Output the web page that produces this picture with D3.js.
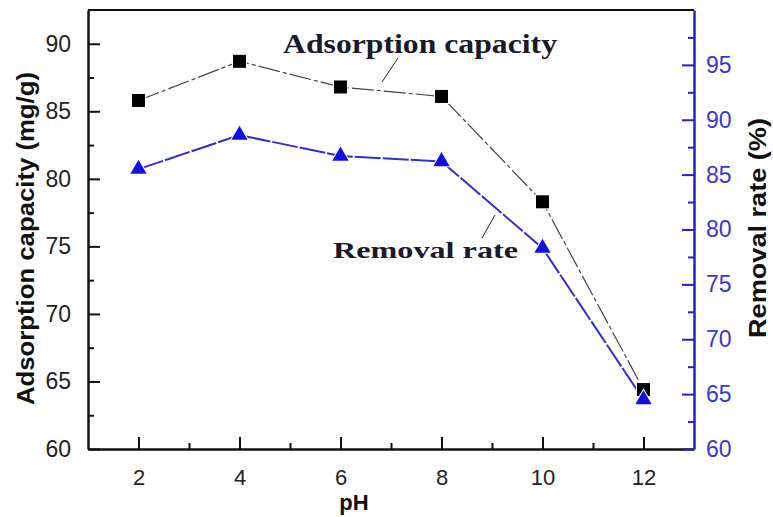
<!DOCTYPE html>
<html>
<head>
<meta charset="utf-8">
<script src="https://d3js.org/d3.v7.min.js"></script>
<style>
  body { margin: 0; background: #fff; }
  text { font-family: "Liberation Sans", Arial, sans-serif; }
</style>
</head>
<body>
<script>
// data
let ph = [2, 4, 6, 8, 10, 12];
let capacity = [85.8, 88.7, 86.8, 86.1, 78.3, 64.4];   // mg/g, left axis
let removal = [85.5, 88.6, 86.7, 86.2, 78.3, 64.5];    // %, right axis
let xTicks = [2, 4, 6, 8, 10, 12];
let leftTicks = [60, 65, 70, 75, 80, 85, 90];
let rightTicks = [60, 65, 70, 75, 80, 85, 90, 95];

let W = 773, H = 517;
let pLeft = 88, pRight = 694, pTop = 10, pBottom = 449;
let blue = "#2222cc";

let svg = d3.select("body").append("svg")
    .attr("width", W).attr("height", H);

let x = d3.scaleLinear().domain([1, 13]).range([pLeft, pRight]);
let yL = d3.scaleLinear().domain([60, 92.5]).range([pBottom, pTop]);
let yR = d3.scaleLinear().domain([60, 100]).range([pBottom, pTop]);

// frame: top line
svg.append("line").attr("x1", pLeft).attr("x2", pRight).attr("y1", pTop).attr("y2", pTop)
    .attr("stroke", "#111").attr("stroke-width", 2);

// bottom axis, ticks pointing inside
let xAxis = svg.append("g").attr("transform", `translate(0,${pBottom})`)
    .call(d3.axisBottom(x).tickValues(xTicks).tickSize(-12).tickPadding(20).tickSizeOuter(0));
xAxis.select(".domain").attr("stroke", "#111").attr("stroke-width", 2.5);
xAxis.selectAll(".tick line").attr("stroke", "#111").attr("stroke-width", 2);
xAxis.selectAll("text").attr("font-size", 22).attr("fill", "#222");
svg.append("g").attr("transform", `translate(0,${pBottom})`)
    .call(d3.axisBottom(x).tickValues([3, 5, 7, 9, 11]).tickSize(-6).tickFormat("").tickSizeOuter(0))
    .call(g => g.select(".domain").remove())
    .selectAll("line").attr("stroke", "#111").attr("stroke-width", 2);

// left axis
let lAxis = svg.append("g").attr("transform", `translate(${pLeft},0)`)
    .call(d3.axisLeft(yL).tickValues(leftTicks).tickSize(-12).tickPadding(17).tickSizeOuter(0));
lAxis.select(".domain").attr("stroke", "#111").attr("stroke-width", 2.5);
lAxis.selectAll(".tick line").attr("stroke", "#111").attr("stroke-width", 2);
lAxis.selectAll("text").attr("font-size", 23).attr("fill", "#222");
svg.append("g").attr("transform", `translate(${pLeft},0)`)
    .call(d3.axisLeft(yL).tickValues([62.5, 67.5, 72.5, 77.5, 82.5, 87.5]).tickSize(-6).tickFormat("").tickSizeOuter(0))
    .call(g => g.select(".domain").remove())
    .selectAll("line").attr("stroke", "#111").attr("stroke-width", 2);

// right axis (blue)
let rAxis = svg.append("g").attr("transform", `translate(${pRight},0)`)
    .call(d3.axisRight(yR).tickValues(rightTicks).tickSize(-12).tickPadding(12).tickSizeOuter(0));
rAxis.select(".domain").attr("stroke", blue).attr("stroke-width", 2.5);
rAxis.selectAll(".tick line").attr("stroke", blue).attr("stroke-width", 2);
rAxis.selectAll("text").attr("font-size", 23).attr("fill", "#3838d0");
svg.append("g").attr("transform", `translate(${pRight},0)`)
    .call(d3.axisRight(yR).tickValues([62.5, 67.5, 72.5, 77.5, 82.5, 87.5, 92.5, 97.5]).tickSize(-6).tickFormat("").tickSizeOuter(0))
    .call(g => g.select(".domain").remove())
    .selectAll("line").attr("stroke", blue).attr("stroke-width", 2);

// axis titles
svg.append("text").attr("transform", "translate(34,72) rotate(-90)")
    .attr("text-anchor", "end").attr("font-size", 23).attr("font-weight", "bold")
    .attr("textLength", 333).attr("lengthAdjust", "spacingAndGlyphs")
    .attr("fill", "#111").text("Adsorption capacity (mg/g)");
svg.append("text").attr("transform", "translate(766,338) rotate(-90)")
    .attr("font-size", 23).attr("font-weight", "bold")
    .attr("textLength", 220).attr("lengthAdjust", "spacingAndGlyphs")
    .attr("fill", "#111").text("Removal rate (%)");
svg.append("text").attr("x", 354).attr("y", 510)
    .attr("text-anchor", "middle").attr("font-size", 22).attr("font-weight", "bold")
    .attr("fill", "#111").text("pH");

// series lines
let capLine = d3.line().x((d, i) => x(ph[i])).y(d => yL(d));
let remLine = d3.line().x((d, i) => x(ph[i])).y(d => yR(d));

svg.append("path").datum(removal).attr("d", remLine)
    .attr("fill", "none").attr("stroke", "#3030cc").attr("stroke-width", 2)
    .attr("stroke-dasharray", "26,2");
svg.append("path").datum(capacity).attr("d", capLine)
    .attr("fill", "none").attr("stroke", "#444").attr("stroke-width", 1.2)
    .attr("stroke-dasharray", "22,3,4,3");

// markers, with a white edge so the lines stop short of them
svg.selectAll(".sq").data(capacity).join("rect")
    .attr("x", (d, i) => x(ph[i]) - 6.5).attr("y", d => yL(d) - 6.5)
    .attr("width", 13).attr("height", 13)
    .attr("fill", "#000").attr("stroke", "#fff").attr("stroke-width", 2)
    .attr("paint-order", "stroke");
let tri = d3.symbol().type(d3.symbolTriangle).size(115);
svg.selectAll(".tri").data(removal).join("path")
    .attr("d", tri)
    .attr("transform", (d, i) => `translate(${x(ph[i])},${yR(d)})`)
    .attr("fill", "#1010e0").attr("stroke", "#fff").attr("stroke-width", 2)
    .attr("paint-order", "stroke");

// annotations
svg.append("text").attr("x", 283).attr("y", 53)
    .attr("font-size", 27).attr("font-weight", "bold").attr("fill", "#1a1a2e")
    .attr("textLength", 274).attr("lengthAdjust", "spacingAndGlyphs")
    .style("font-family", "'Liberation Serif', serif")
    .text("Adsorption  capacity");
svg.append("line").attr("x1", 398).attr("y1", 58).attr("x2", 382).attr("y2", 82)
    .attr("stroke", "#222").attr("stroke-width", 1);

svg.append("text").attr("x", 333).attr("y", 258)
    .attr("font-size", 23).attr("font-weight", "bold").attr("fill", "#1a1a2e")
    .attr("textLength", 185).attr("lengthAdjust", "spacingAndGlyphs")
    .style("font-family", "'Liberation Serif', serif")
    .text("Removal  rate");
svg.append("line").attr("x1", 495).attr("y1", 215).attr("x2", 482).attr("y2", 238)
    .attr("stroke", "#222").attr("stroke-width", 1);
</script>
</body>
</html>
